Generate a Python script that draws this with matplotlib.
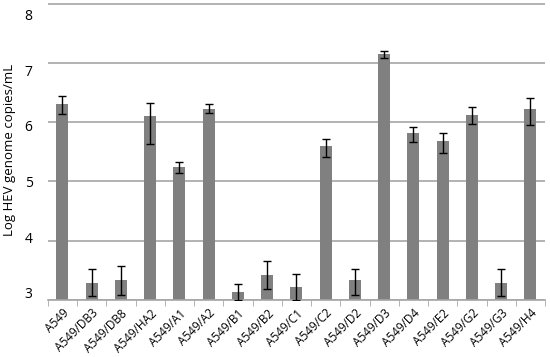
import numpy as np
import matplotlib.pyplot as plt
from matplotlib.ticker import FixedLocator
from matplotlib.transforms import ScaledTranslation

# Data
labels = ["A549", "A549/DB3", "A549/DB8", "A549/HA2", "A549/A1", "A549/A2",
          "A549/B1", "A549/B2", "A549/C1", "A549/C2", "A549/D2", "A549/D3",
          "A549/D4", "A549/E2", "A549/G2", "A549/G3", "A549/H4"]
values = [6.31, 3.29, 3.33, 6.10, 5.24, 6.23, 3.13, 3.42, 3.22, 5.60, 3.34,
          7.15, 5.81, 5.68, 6.12, 3.29, 6.22]
err_up = [0.13, 0.23, 0.24, 0.23, 0.08, 0.07, 0.14, 0.23, 0.22, 0.12, 0.18,
          0.05, 0.10, 0.14, 0.13, 0.23, 0.18]
err_down = [0.17, 0.23, 0.24, 0.47, 0.10, 0.07, 0.14, 0.23, 0.22, 0.18, 0.25,
            0.07, 0.14, 0.20, 0.15, 0.23, 0.27]
yticks = [3, 4, 5, 6, 7, 8]

plt.rcParams['font.family'] = ['Open Sans', 'DejaVu Sans']

fig = plt.figure(figsize=(5.5, 3.57), dpi=100)
ax = fig.add_axes([0.087, 0.16, 0.904, 0.838])

x = np.arange(len(labels))
ax.bar(x, np.array(values) - 3, bottom=3, width=0.41, color='#808080', zorder=2)
ax.errorbar(x, values, yerr=[err_down, err_up], fmt='none', ecolor='black',
            elinewidth=1, capsize=3, capthick=1, zorder=3)

ax.set_ylim(3, 8.05)
ax.set_xlim(-0.5, len(labels) - 0.5)
ax.set_yticks(yticks)
ax.yaxis.grid(True, color='#a6a6a6', linewidth=1.2, zorder=1)
ax.tick_params(axis='y', length=0, labelsize=10, pad=11)

# the value labels drift a little from their gridlines in the original
for v, lab in zip(yticks, ax.get_yticklabels()):
    dy = (7 - 3.6 * (v - 3)) / 100
    lab.set_transform(lab.get_transform() + ScaledTranslation(0, dy, fig.dpi_scale_trans))

ax.set_xticks(x)
ax.set_xticklabels(labels, rotation=45, ha='right', rotation_mode='anchor',
                   fontsize=8.5)
ax.tick_params(axis='x', which='major', length=0, pad=5)
ax.xaxis.set_minor_locator(FixedLocator(np.arange(-0.5, len(labels), 1)))
ax.tick_params(axis='x', which='minor', length=4, direction='out',
               color='#a6a6a6')

for s in ['left', 'right', 'top']:
    ax.spines[s].set_visible(False)
ax.spines['bottom'].set_color('#a6a6a6')
ax.spines['bottom'].set_linewidth(1.2)

ax.set_ylabel("Log HEV genome copies/mL", fontsize=9.5, labelpad=6)

fig.savefig("out.png", dpi=100)
